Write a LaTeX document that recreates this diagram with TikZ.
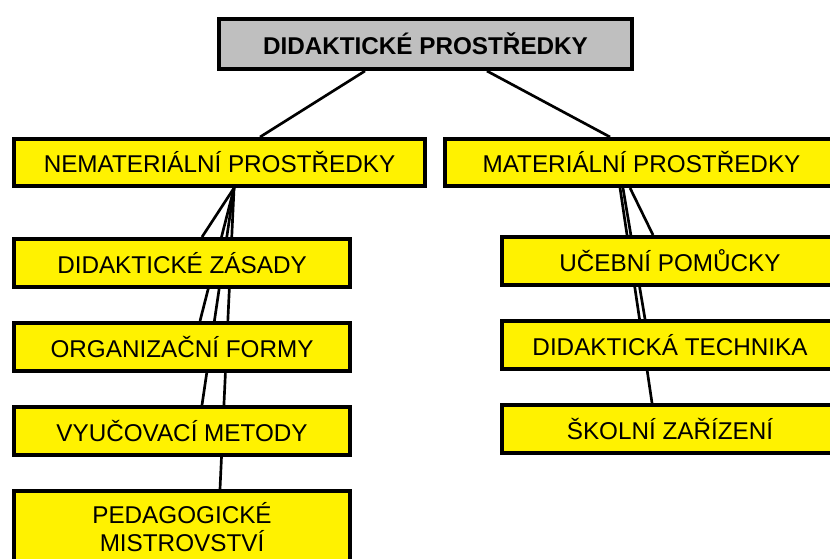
\documentclass[tikz,border=0pt]{standalone}
\usepackage{fontspec}
\setmainfont{Liberation Sans}
\usetikzlibrary{positioning,backgrounds}

\begin{document}
\begin{tikzpicture}[
  x=0.75pt, y=-0.75pt,
  node distance=24pt,
  every node/.style={font=\fontsize{18.2}{21}\selectfont},
  rootbox/.style={draw, line width=3pt, fill=gray!50, inner sep=0pt, minimum width=309.75pt, minimum height=37.5pt, font=\bfseries\fontsize{18.2}{21}\selectfont},
  groupbox/.style={draw, line width=3pt, fill=yellow, inner sep=0pt, minimum height=35.25pt},
  leafbox/.style={draw, line width=3pt, fill=yellow, inner sep=0pt, align=center, minimum width=252pt, minimum height=36pt},
  link/.style={line width=2pt}
]
\useasboundingbox (0,0) rectangle (830,559);
\node[rootbox] (root) at (425.5,44) {DIDAKTICKÉ PROSTŘEDKY};
\node[groupbox, minimum width=308.25pt] (nemat) at (219.5,162.5) {NEMATERIÁLNÍ PROSTŘEDKY};
\node[groupbox, minimum width=294.75pt] (mat) at (641.5,162.5) {MATERIÁLNÍ PROSTŘEDKY};
\node[leafbox, below=36.75pt of nemat.south west, anchor=north west] (zasady) {DIDAKTICKÉ ZÁSADY};
\node[leafbox, below=of zasady] (formy) {ORGANIZAČNÍ FORMY};
\node[leafbox, below=of formy] (metody) {VYUČOVACÍ METODY};
\node[leafbox, below=of metody, minimum height=54pt] (mistr) {PEDAGOGICKÉ\\MISTROVSTVÍ};
\node[leafbox, below=35.25pt of mat.south west, anchor=north west, xshift=42.75pt] (pomucky) {UČEBNÍ POMŮCKY};
\node[leafbox, below=of pomucky] (technika) {DIDAKTICKÁ TECHNIKA};
\node[leafbox, below=of technika] (zarizeni) {ŠKOLNÍ ZAŘÍZENÍ};
\begin{scope}[on background layer]
\draw[link] ([xshift=-45.4pt]root.south) -- ([xshift=30.4pt]nemat.north);
\draw[link] ([xshift=46.1pt]root.south) -- ([xshift=-23.6pt]mat.north);
\draw[link] ([xshift=10.9pt]nemat.south) -- ([xshift=15pt]zasady.north);
\draw[link] ([xshift=10.9pt]nemat.south) -- ([xshift=13.5pt]formy.north);
\draw[link] ([xshift=10.9pt]nemat.south) -- ([xshift=15pt]metody.north);
\draw[link] ([xshift=10.9pt]nemat.south) -- ([xshift=28.5pt]mistr.north);
\draw[link] ([xshift=-8.6pt]mat.south) -- ([xshift=-12.75pt]pomucky.north);
\draw[link] ([xshift=-13.9pt]mat.south) -- ([xshift=-18.75pt]technika.north);
\draw[link] ([xshift=-16.1pt]mat.south) -- ([xshift=-13.5pt]zarizeni.north);
\end{scope}
\end{tikzpicture}
\end{document}
